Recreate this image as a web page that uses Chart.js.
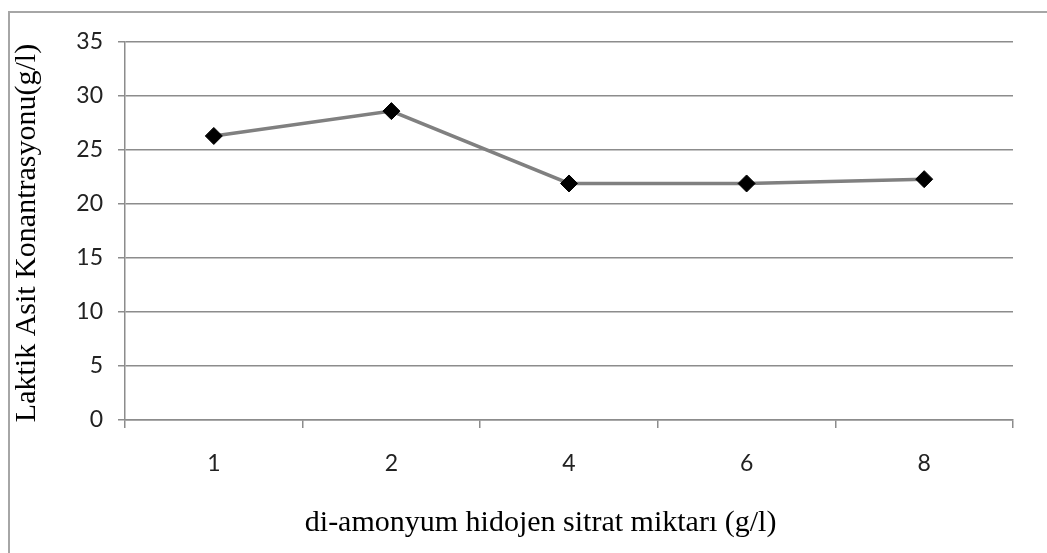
<!DOCTYPE html>
<html>
<head>
<meta charset="utf-8">
<script src="https://cdn.jsdelivr.net/npm/chart.js@4.4.1/dist/chart.umd.min.js"></script>
<style>
  body { margin: 0; background: #fff; }
  #wrap { position: relative; width: 1047px; height: 553px; }
  #frame { position: absolute; left: 8px; top: 11px; right: -10px; bottom: -10px;
           border-top: 2px solid #a6a6a6; border-left: 2px solid #a6a6a6; pointer-events: none; }
</style>
</head>
<body>
<div id="wrap">
  <canvas id="chart" width="1047" height="553"></canvas>
  <div id="frame"></div>
</div>
<script>
const categories = ['1', '2', '4', '6', '8'];
const lactic = [26.3, 28.6, 21.9, 21.9, 22.3];
const yTicks = [0, 5, 10, 15, 20, 25, 30, 35];

const xTitle = 'di-amonyum hidojen sitrat miktarı (g/l)';
const yTitle = 'Laktik Asit Konantrasyonu(g/l)';

// axis titles placed relative to the chart area
const axisTitles = {
  id: 'axisTitles',
  afterDraw(chart) {
    const { ctx, chartArea } = chart;
    ctx.save();
    ctx.fillStyle = '#000';
    ctx.font = '30px "Liberation Serif", "Times New Roman", serif';
    ctx.textAlign = 'center';
    ctx.textBaseline = 'middle';
    ctx.fillText(xTitle, chartArea.left + (chartArea.right - chartArea.left) * 0.468, chartArea.bottom + 103);
    ctx.translate(chartArea.left - 98, (chartArea.top + chartArea.bottom) / 2 + 2);
    ctx.rotate(-Math.PI / 2);
    ctx.fillText(yTitle, 0, 0);
    ctx.restore();
  }
};

new Chart(document.getElementById('chart'), {
  type: 'line',
  data: {
    labels: categories,
    datasets: [{
      data: lactic,
      borderColor: '#808080',
      borderWidth: 3.5,
      pointStyle: 'rectRot',
      pointRadius: 8.5,
      pointHoverRadius: 8.5,
      pointBackgroundColor: '#000',
      pointBorderColor: '#000',
      pointBorderWidth: 1,
      tension: 0
    }]
  },
  options: {
    responsive: false,
    animation: false,
    layout: { padding: { top: 42, right: 34, left: 0, bottom: 0 } },
    plugins: { legend: { display: false }, tooltip: { enabled: false } },
    scales: {
      x: {
        offset: true,
        grid: { offset: true, drawOnChartArea: false, drawTicks: true, tickLength: 8, color: '#8c8c8c', lineWidth: 1.5 },
        border: { color: '#8c8c8c', width: 1.5 },
        ticks: { color: '#222', padding: 22, font: { family: 'Lato, "Open Sans", sans-serif', size: 23 } },
        afterFit(scale) { scale.height = 133; }
      },
      y: {
        min: 0,
        max: 35,
        afterBuildTicks(scale) { scale.ticks = yTicks.map(v => ({ value: v })); },
        grid: { color: '#8c8c8c', lineWidth: 1.5, tickLength: 7 },
        border: { color: '#8c8c8c', width: 1.5 },
        ticks: { color: '#222', padding: 15, font: { family: 'Lato, "Open Sans", sans-serif', size: 23 } },
        afterFit(scale) { scale.width = 125; }
      }
    }
  },
  plugins: [axisTitles]
});
</script>
</body>
</html>
